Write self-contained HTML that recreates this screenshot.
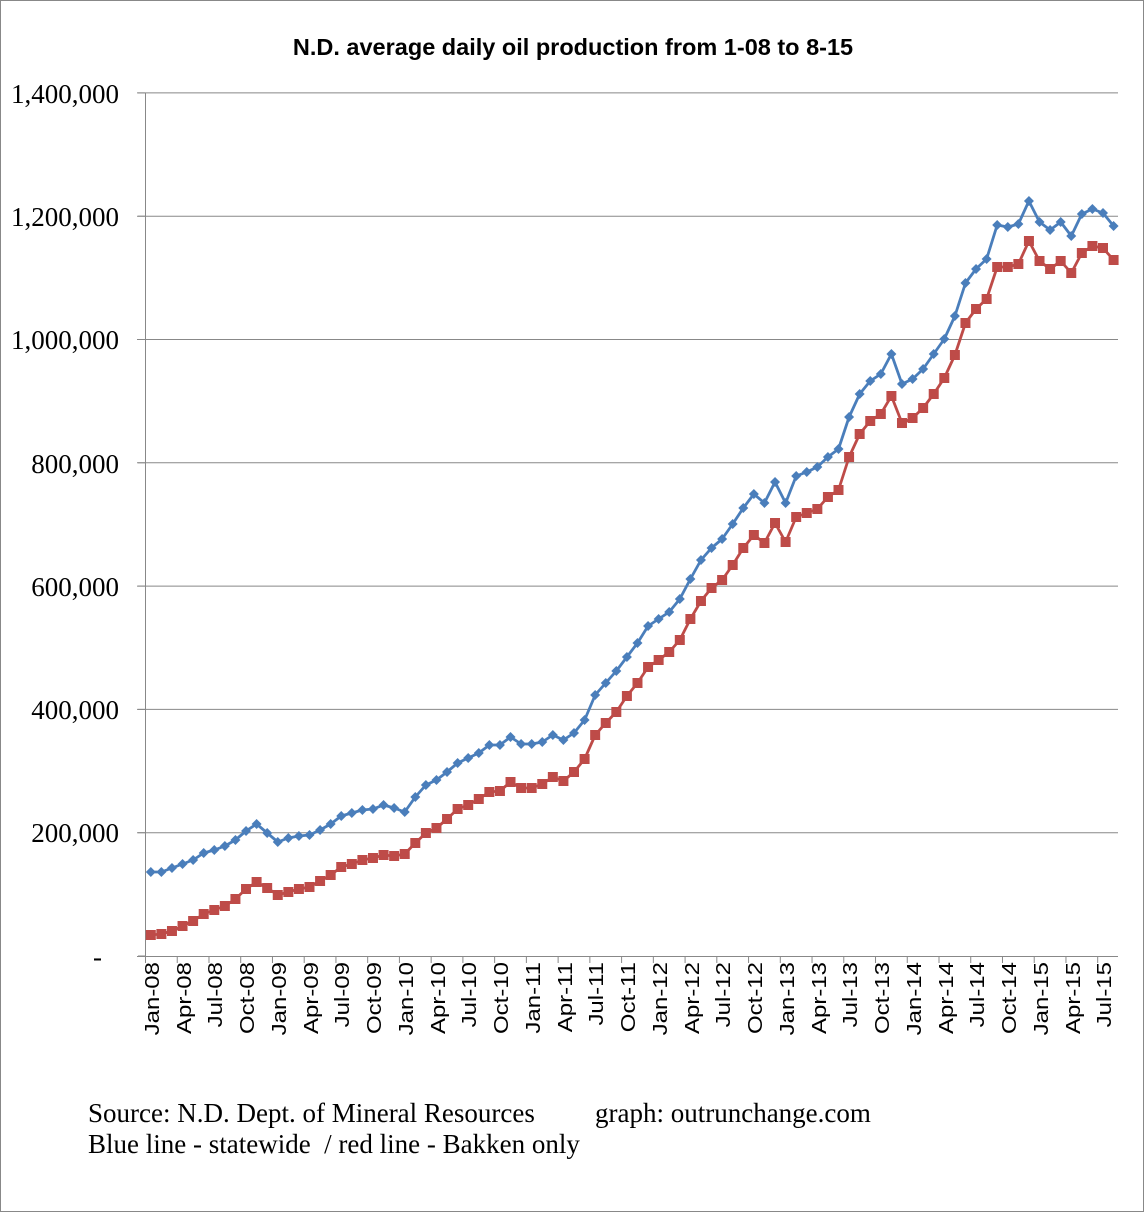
<!DOCTYPE html>
<html><head><meta charset="utf-8"><style>
html,body{margin:0;padding:0;background:#fff;}
svg{display:block;}
</style></head><body>
<svg id="s" width="1145" height="1213" xmlns="http://www.w3.org/2000/svg">
<rect x="0.5" y="0.5" width="1143" height="1211" fill="#fff" stroke="#888"/>
<text x="573" y="55" font-family="Liberation Sans, sans-serif" font-weight="bold" font-size="23.5" text-anchor="middle">N.D. average daily oil production from 1-08 to 8-15</text>
<g id="grid" stroke="#888" stroke-width="1"></g>
<g font-family="Liberation Serif, serif" font-size="27" text-anchor="end" fill="#000">
<text x="119" y="103">1,400,000</text>
<text x="119" y="226">1,200,000</text>
<text x="119" y="349">1,000,000</text>
<text x="119" y="473">800,000</text>
<text x="119" y="596">600,000</text>
<text x="119" y="719">400,000</text>
<text x="119" y="842">200,000</text>
<text x="102" y="966">-</text>
</g>
<g id="xl" font-family="Liberation Sans, sans-serif" font-size="20" text-anchor="end">
<text transform="translate(159,962) rotate(-90) scale(1.2,1)">Jan-08</text>
<text transform="translate(191,962) rotate(-90) scale(1.2,1)">Apr-08</text>
<text transform="translate(222,962) rotate(-90) scale(1.2,1)">Jul-08</text>
<text transform="translate(254,962) rotate(-90) scale(1.2,1)">Oct-08</text>
<text transform="translate(286,962) rotate(-90) scale(1.2,1)">Jan-09</text>
<text transform="translate(318,962) rotate(-90) scale(1.2,1)">Apr-09</text>
<text transform="translate(349,962) rotate(-90) scale(1.2,1)">Jul-09</text>
<text transform="translate(381,962) rotate(-90) scale(1.2,1)">Oct-09</text>
<text transform="translate(413,962) rotate(-90) scale(1.2,1)">Jan-10</text>
<text transform="translate(445,962) rotate(-90) scale(1.2,1)">Apr-10</text>
<text transform="translate(476,962) rotate(-90) scale(1.2,1)">Jul-10</text>
<text transform="translate(508,962) rotate(-90) scale(1.2,1)">Oct-10</text>
<text transform="translate(540,962) rotate(-90) scale(1.2,1)">Jan-11</text>
<text transform="translate(572,962) rotate(-90) scale(1.2,1)">Apr-11</text>
<text transform="translate(603,962) rotate(-90) scale(1.2,1)">Jul-11</text>
<text transform="translate(635,962) rotate(-90) scale(1.2,1)">Oct-11</text>
<text transform="translate(667,962) rotate(-90) scale(1.2,1)">Jan-12</text>
<text transform="translate(699,962) rotate(-90) scale(1.2,1)">Apr-12</text>
<text transform="translate(730,962) rotate(-90) scale(1.2,1)">Jul-12</text>
<text transform="translate(762,962) rotate(-90) scale(1.2,1)">Oct-12</text>
<text transform="translate(794,962) rotate(-90) scale(1.2,1)">Jan-13</text>
<text transform="translate(826,962) rotate(-90) scale(1.2,1)">Apr-13</text>
<text transform="translate(857,962) rotate(-90) scale(1.2,1)">Jul-13</text>
<text transform="translate(889,962) rotate(-90) scale(1.2,1)">Oct-13</text>
<text transform="translate(921,962) rotate(-90) scale(1.2,1)">Jan-14</text>
<text transform="translate(953,962) rotate(-90) scale(1.2,1)">Apr-14</text>
<text transform="translate(984,962) rotate(-90) scale(1.2,1)">Jul-14</text>
<text transform="translate(1016,962) rotate(-90) scale(1.2,1)">Oct-14</text>
<text transform="translate(1048,962) rotate(-90) scale(1.2,1)">Jan-15</text>
<text transform="translate(1080,962) rotate(-90) scale(1.2,1)">Apr-15</text>
<text transform="translate(1111,962) rotate(-90) scale(1.2,1)">Jul-15</text>
</g>
<g id="series"></g>
<g font-family="Liberation Serif, serif" font-size="27">
<text x="88" y="1122">Source: N.D. Dept. of Mineral Resources</text>
<text x="595" y="1122">graph: outrunchange.com</text>
<text x="88" y="1153" xml:space="preserve">Blue line - statewide  / red line - Bakken only</text>
</g>
</svg>
<script>
var NS="http://www.w3.org/2000/svg";
function el(t,a,p){var e=document.createElementNS(NS,t);for(var k in a)e.setAttribute(k,a[k]);p.appendChild(e);return e;}
var g=document.getElementById('grid');
for(var i=1;i<=7;i++){var y=956-i*123.3;el('line',{x1:137,x2:1118,y1:y,y2:y},g);}
el('line',{x1:145.5,x2:145.5,y1:93,y2:956},g);
el('line',{x1:137,x2:1118,y1:956.5,y2:956.5},g);
for(var i=0;i<=7;i++){var y=956-i*123.3;el('line',{x1:138,x2:145,y1:y,y2:y},g);}
for(var k=0;k<=31;k++){var x=145.5+k*3*10.58;if(x>1119)break;el('line',{x1:x,x2:x,y1:956,y2:963},g);}
var blue=[872,872,868,864,860,853,850,846,840,831,824,833,842,838,836,835,830,824,816,813,810,809,805,808,812,797,785,780,772,763,758,753,745,745,737,744,744,742,735,740,733,720,695,683,671,657,643,626,619,612,599,579,560,548,539,524,508,494,503,482,503,476,472,467,457,449,417,394,381,374,354,384,379,369,354,339,316,283,269,259,225,227,224,201,222,230,222,236,214,209,213,226];
var red=[935,934,931,926,921,914,910,906,899,889,882,888,895,892,889,887,881,875,867,864,860,858,855,856,854,843,833,828,819,809,805,799,792,791,782,788,788,784,777,781,772,759,735,723,712,696,683,667,660,652,640,619,601,588,580,565,548,535,543,523,542,517,513,509,497,490,457,434,421,414,396,423,418,408,394,378,355,323,309,299,267,267,264,241,261,269,261,273,253,246,248,260];
var s=document.getElementById('series');
function X(i){return 150.8+i*10.58;}
function line(d,c){var p=d.map(function(y,i){return X(i).toFixed(1)+','+y;}).join(' ');el('polyline',{points:p,fill:'none',stroke:c,'stroke-width':2.8,'stroke-linejoin':'round'},s);}
line(red,'#be4b48');line(blue,'#4a7ebb');
red.forEach(function(y,i){el('rect',{x:X(i)-5,y:y-5,width:10,height:10,fill:'#be4b48'},s);});
blue.forEach(function(y,i){var x=X(i);el('polygon',{points:(x)+','+(y-5)+' '+(x+5)+','+y+' '+x+','+(y+5)+' '+(x-5)+','+y,fill:'#4a7ebb'},s);});
</script>
</body></html>
